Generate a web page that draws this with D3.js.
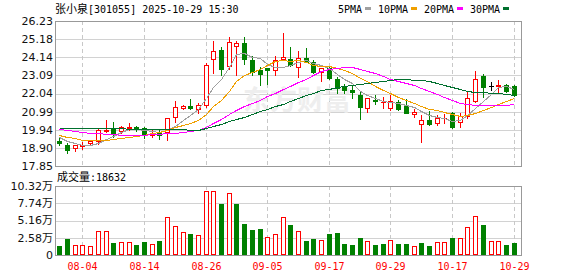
<!DOCTYPE html>
<html>
<head>
<meta charset="utf-8">
<title>张小泉 日K</title>
<style>
body { margin: 0; background: #fff; }
svg { display: block; }
.num { font-family: "DejaVu Sans", "Noto Sans CJK SC", sans-serif; font-size: 11px; fill: #111; }
.mono { font-family: "DejaVu Sans Mono", monospace; font-size: 10px; }
.cjk { font-family: "Noto Sans CJK SC", sans-serif; font-size: 11px; }
</style>
</head>
<body>
<script src="https://cdn.jsdelivr.net/npm/d3@7/dist/d3.min.js"></script>
<script>
// trading days shown
var dates = ["07-30","07-31","08-01","08-04","08-05","08-06","08-07","08-08","08-11","08-12",
  "08-13","08-14","08-15","08-18","08-19","08-20","08-21","08-22","08-25","08-26",
  "08-27","08-28","08-29","09-01","09-02","09-03","09-04","09-05","09-08","09-09",
  "09-10","09-11","09-12","09-15","09-16","09-17","09-18","09-19","09-22","09-23",
  "09-24","09-25","09-26","09-29","09-30","10-09","10-10","10-13","10-14","10-15",
  "10-16","10-17","10-20","10-21","10-22","10-23","10-24","10-27","10-28","10-29"];

var opens = [19.31,19.06,18.87,19.00,19.16,19.29,19.90,19.98,19.85,20.06,
  20.10,20.03,19.65,19.77,19.83,20.66,21.22,21.32,21.13,21.38,
  24.02,24.55,23.63,24.79,24.94,23.98,23.37,23.50,23.40,24.06,
  24.02,23.55,24.11,23.88,23.30,23.50,22.86,22.47,22.22,21.95,
  21.18,21.66,21.54,21.22,21.57,21.32,20.84,20.26,20.51,20.32,
  20.60,20.90,20.38,20.72,21.62,23.05,22.45,22.45,22.53,22.50];
var highs = [19.47,19.16,19.05,19.25,19.30,19.97,20.51,20.39,20.18,20.33,
  20.15,20.09,19.93,19.93,20.63,21.61,21.39,21.70,21.51,23.79,
  25.07,24.71,25.29,25.07,25.29,24.20,23.59,23.50,24.20,25.52,
  24.75,24.50,24.65,23.98,23.50,23.59,23.01,22.57,22.53,22.15,
  21.76,21.95,21.86,21.95,21.66,21.70,21.13,20.80,21.03,20.80,
  20.84,20.99,20.90,22.21,23.34,23.17,22.72,22.82,22.59,22.53];
var lows = [19.06,18.62,18.73,18.81,19.06,19.12,19.83,19.55,19.74,19.93,
  19.85,19.49,19.51,19.43,19.35,20.41,21.16,21.16,20.90,21.28,
  23.21,23.11,23.44,23.11,23.73,23.11,22.53,22.59,23.11,24.02,
  23.64,23.01,23.88,23.24,22.78,22.86,22.05,22.05,21.76,20.55,
  20.99,21.41,21.18,21.09,21.09,20.90,20.70,19.25,20.22,20.22,
  20.32,20.06,20.12,20.61,21.57,21.86,22.24,22.05,22.14,21.89];
var closes = [19.20,18.77,19.05,19.08,19.27,19.91,19.93,19.78,20.09,20.12,
  19.97,19.68,19.70,19.64,20.61,21.28,21.34,21.22,21.38,23.69,
  24.50,23.44,25.00,24.98,24.02,23.26,23.16,23.40,23.98,24.17,
  23.69,24.11,23.88,23.30,23.50,22.92,22.34,22.22,22.12,21.24,
  21.76,21.58,21.56,21.61,21.14,20.93,20.99,20.51,20.28,20.61,
  20.63,20.12,20.74,21.76,22.86,22.43,22.45,22.53,22.20,21.95];
var volumes = [13500,23900,14500,14500,13000,35900,35900,18000,19400,19400,
  15000,19900,16500,21400,56400,42900,34400,31400,29900,95700,
  95700,76300,92800,76300,46400,37400,38900,26900,31400,56400,
  44900,35900,21400,23900,22400,31400,32900,16500,15000,25400,
  20900,15000,16500,22400,16500,16500,13000,18000,13500,19400,
  19400,25400,25400,41900,58300,44900,20900,20900,15000,18632];

// moving averages as drawn
var ma5 = [19.50,19.29,19.16,19.09,19.05,19.19,19.43,19.57,19.80,19.96,
  19.97,19.92,19.90,19.81,19.92,20.18,20.51,20.82,21.17,21.78,
  22.43,22.85,23.60,24.32,24.39,24.14,24.08,23.76,23.56,23.59,
  23.68,23.87,23.97,23.83,23.70,23.54,23.19,22.86,22.62,22.17,
  21.94,21.76,21.63,21.53,21.51,21.35,21.25,21.04,20.77,20.66,
  20.60,20.43,20.48,20.77,21.22,21.58,22.04,22.40,22.49,22.31];
var ma10 = [19.67,19.53,19.44,19.38,19.35,19.34,19.35,19.39,19.44,19.50,
  19.58,19.67,19.74,19.80,19.94,20.08,20.22,20.36,20.49,20.85,
  21.30,21.68,22.21,22.74,23.09,23.28,23.47,23.68,23.94,23.99,
  23.91,23.98,23.87,23.70,23.65,23.61,23.53,23.41,23.23,22.93,
  22.74,22.48,22.25,22.08,21.84,21.64,21.51,21.34,21.15,21.09,
  20.98,20.84,20.76,20.77,20.94,21.09,21.24,21.44,21.63,21.77];
var ma20 = [19.96,19.91,19.86,19.82,19.77,19.73,19.71,19.69,19.67,19.66,
  19.66,19.67,19.68,19.71,19.74,19.76,19.79,19.85,19.93,20.10,
  20.32,20.55,20.85,21.10,21.33,21.50,21.68,21.87,22.07,22.28,
  22.47,22.68,22.90,23.13,23.32,23.43,23.50,23.55,23.58,23.46,
  23.32,23.23,23.06,22.89,22.74,22.63,22.52,22.37,22.19,22.01,
  21.86,21.66,21.50,21.42,21.39,21.37,21.37,21.39,21.39,21.43];
var ma30 = [20.02,20.02,20.02,20.02,20.02,20.02,20.02,20.02,20.02,20.01,
  20.00,19.99,19.98,19.97,19.96,19.96,19.96,19.95,19.95,20.04,
  20.16,20.28,20.45,20.57,20.71,20.86,21.00,21.14,21.29,21.45,
  21.60,21.78,21.94,22.08,22.22,22.32,22.40,22.48,22.55,22.59,
  22.65,22.71,22.77,22.84,22.86,22.85,22.83,22.81,22.77,22.67,
  22.54,22.43,22.29,22.18,22.14,22.12,22.09,22.06,22.00,21.93];

var maNames = ["5PMA", "10PMA", "20PMA", "30PMA"];
var dateTicks = ["08-04","08-14","08-26","09-05","09-17","09-29","10-17","10-29"];
var priceTicks = [17.85, 18.90, 19.94, 20.99, 22.04, 23.09, 24.14, 25.18, 26.23];
var volTicks = [0, 25800, 51600, 77400, 103200];

var red = "#ff0000", green = "#008000";
var maColors = ["#a0a0a0", "#f0a000", "#ff00ff", "#00702e"];

var W = 578, H = 276;
var left = 55.5, right = 521.5;
var pTop = 21, pBot = 166, vTop = 186, vBot = 255;

var svg = d3.select("body").append("svg")
    .attr("width", W)
    .attr("height", H);

var x = d3.scaleBand().domain(dates).range([56, 518]);
var y = d3.scaleLinear().domain([17.85, 26.23]).range([pBot, pTop]);
var yv = d3.scaleLinear().domain([0, 103200]).range([vBot, vTop]);

function cx(i) { return Math.floor(x(dates[i]) + x.bandwidth() / 2); }
function py(v) { return Math.round(y(v)); }

// title
var title = svg.append("text").attr("x", 55).attr("y", 13);
title.append("tspan").attr("class", "cjk").text("张小泉");
title.append("tspan").attr("class", "mono").text("[301055] 2025-10-29 15:30");

// legend
var lx = 338;
maNames.forEach(function(name, k) {
  svg.append("text").attr("class", "mono").attr("x", lx).attr("y", 12.5).text(name);
  lx += name.length * 6 + 3;
  svg.append("rect").attr("x", lx).attr("y", 7).attr("width", 6).attr("height", 3)
      .attr("fill", maColors[k]);
  lx += 13;
});

// grids
var grid = svg.append("g").attr("shape-rendering", "crispEdges");
grid.selectAll(".pg").data(priceTicks).enter().append("line")
    .attr("x1", left).attr("x2", right)
    .attr("y1", function(d) { return py(d) + 0.5; })
    .attr("y2", function(d) { return py(d) + 0.5; })
    .attr("stroke", "#d2d2d2");
grid.selectAll(".vg").data(volTicks).enter().append("line")
    .attr("x1", left).attr("x2", right)
    .attr("y1", function(d) { return Math.round(yv(d)) + 0.5; })
    .attr("y2", function(d) { return Math.round(yv(d)) + 0.5; })
    .attr("stroke", "#d2d2d2");
dateTicks.forEach(function(t) {
  var xx = cx(dates.indexOf(t)) + 0.5;
  [[pTop, pBot], [vTop, vBot]].forEach(function(r) {
    grid.append("line").attr("x1", xx).attr("x2", xx).attr("y1", r[0]).attr("y2", r[1])
        .attr("stroke", "#c8c8c8").attr("stroke-dasharray", "4,3");
  });
});

// watermark
svg.append("text")
    .attr("x", 243).attr("y", 110)
    .attr("font-family", "Noto Sans CJK SC")
    .attr("font-weight", "bold")
    .attr("font-size", 27)
    .attr("fill", "#eeeeee")
    .text("东方财富");

// axis labels
svg.selectAll(".plab").data(priceTicks).enter().append("text")
    .attr("class", "num")
    .attr("x", 53).attr("y", function(d) { return y(d); })
    .attr("dy", "0.36em")
    .attr("text-anchor", "end")
    .text(function(d) { return d.toFixed(2); });
svg.selectAll(".vlab").data(volTicks).enter().append("text")
    .attr("class", "num")
    .attr("x", 53).attr("y", function(d) { return yv(d); })
    .attr("dy", "0.36em")
    .attr("text-anchor", "end")
    .text(function(d) { return d === 0 ? "0" : (d / 10000).toFixed(2) + "万"; });
svg.selectAll(".xlab").data(dateTicks).enter().append("text")
    .attr("class", "mono")
    .attr("x", function(d) { return cx(dates.indexOf(d)) + 0.5; })
    .attr("y", 270)
    .attr("text-anchor", "middle")
    .attr("fill", red)
    .text(function(d) { return d; });

var volTitle = svg.append("text").attr("x", 57).attr("y", 181);
volTitle.append("tspan").attr("class", "cjk").text("成交量");
volTitle.append("tspan").attr("class", "mono").text(":" + volumes[volumes.length - 1]);

// candles
function candleColor(i) {
  if (closes[i] > opens[i]) return red;
  if (closes[i] < opens[i]) return green;
  return "#000";
}
var candles = svg.append("g").attr("shape-rendering", "crispEdges");
dates.forEach(function(d, i) {
  var c = cx(i), col = candleColor(i);
  var top = py(Math.max(opens[i], closes[i])), bot = py(Math.min(opens[i], closes[i]));
  candles.append("line")
      .attr("x1", c + 0.5).attr("x2", c + 0.5)
      .attr("y1", py(highs[i])).attr("y2", py(lows[i]) + 1)
      .attr("stroke", col);
  if (bot - top < 1) {
    candles.append("line")
        .attr("x1", c - 2).attr("x2", c + 3)
        .attr("y1", top + 0.5).attr("y2", top + 0.5)
        .attr("stroke", col);
  } else if (col === red) {
    candles.append("rect")
        .attr("x", c - 1.5).attr("y", top + 0.5)
        .attr("width", 4).attr("height", bot - top)
        .attr("fill", "#fff").attr("stroke", red);
  } else {
    candles.append("rect")
        .attr("x", c - 2).attr("y", top)
        .attr("width", 5).attr("height", bot - top + 1)
        .attr("fill", col);
  }
});

// moving average lines
[ma5, ma10, ma20, ma30].forEach(function(series, k) {
  var line = d3.line()
      .x(function(v, i) { return cx(i) + 0.5; })
      .y(function(v) { return py(v) + 0.5; });
  svg.append("path")
      .attr("d", line(series))
      .attr("fill", "none")
      .attr("stroke", maColors[k])
      .attr("stroke-width", 1)
      .attr("shape-rendering", "crispEdges");
});

// volume bars, coloured by change against previous close
var vols = svg.append("g").attr("shape-rendering", "crispEdges");
volumes.forEach(function(v, i) {
  var up = i === 0 ? closes[i] >= opens[i] : closes[i] >= closes[i - 1];
  var c = cx(i), top = Math.round(yv(v));
  if (up) {
    vols.append("rect")
        .attr("x", c - 1.5).attr("y", top + 0.5)
        .attr("width", 4).attr("height", vBot - top - 1)
        .attr("fill", "#fff").attr("stroke", red);
  } else {
    vols.append("rect")
        .attr("x", c - 2).attr("y", top)
        .attr("width", 5).attr("height", vBot - top)
        .attr("fill", green);
  }
});

// panel borders
var frame = svg.append("g").attr("shape-rendering", "crispEdges")
    .attr("fill", "none").attr("stroke", "#999");
frame.append("rect").attr("x", left).attr("y", pTop + 0.5)
    .attr("width", right - left).attr("height", pBot - pTop);
frame.append("rect").attr("x", left).attr("y", vTop + 0.5)
    .attr("width", right - left).attr("height", vBot - vTop);
</script>
</body>
</html>
